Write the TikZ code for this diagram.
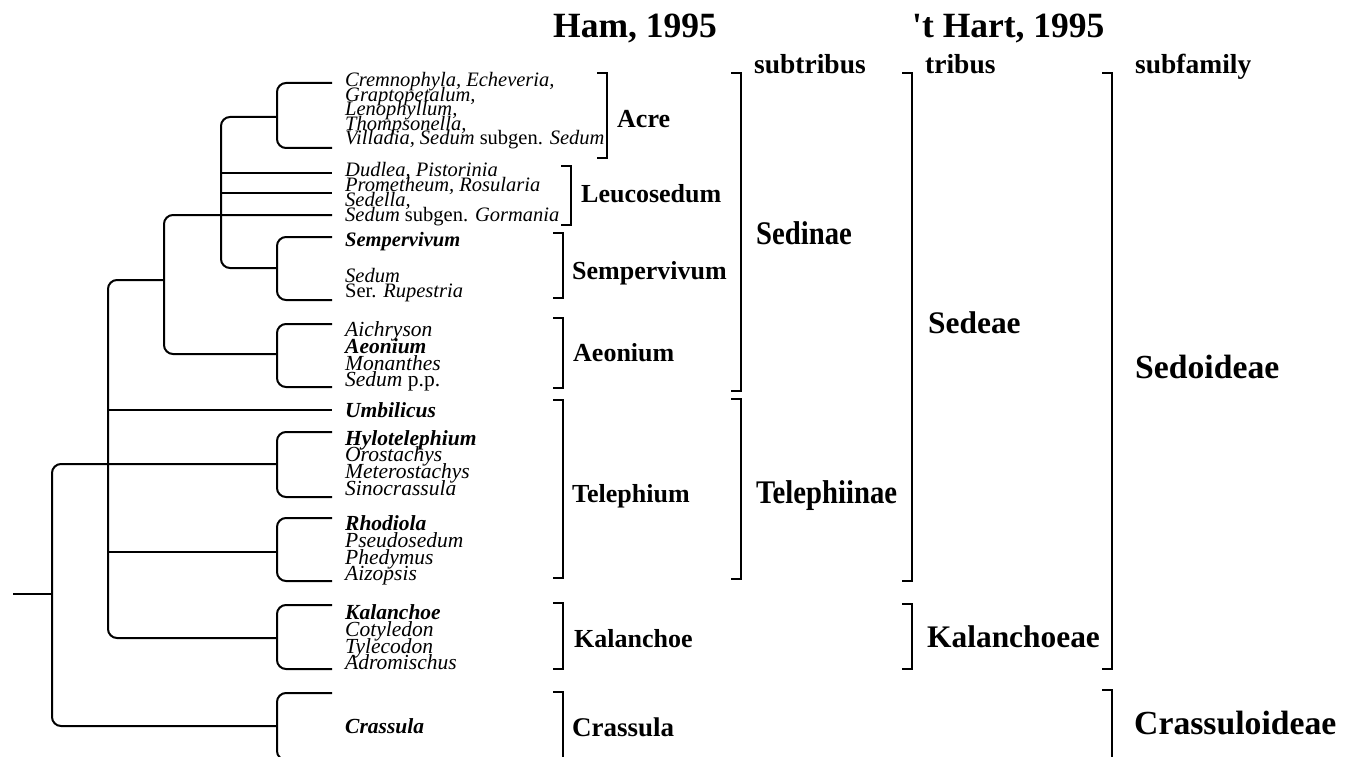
\documentclass[tikz,border=0pt]{standalone}
\usepackage{fontspec}
\setmainfont{Liberation Serif}
\begin{document}
\begin{tikzpicture}[x=1pt,y=-1pt,
  br/.style={line width=2pt,rounded corners=9pt},
  brk/.style={line width=2pt},
  tx/.style={anchor=base west,inner sep=0pt,font=\fontsize{20.5}{20}\selectfont},
  txl/.style={anchor=base west,inner sep=0pt,font=\fontsize{21.5}{20}\selectfont},
  lab/.style={anchor=base west,inner sep=0pt,font=\fontsize{26}{26}\selectfont\bfseries},
  big/.style={anchor=base west,inner sep=0pt,font=\fontsize{33}{33}\selectfont\bfseries},
  mid/.style={anchor=base west,inner sep=0pt,font=\fontsize{31.4}{31}\selectfont\bfseries},
  huge/.style={anchor=base west,inner sep=0pt,font=\fontsize{33.7}{34}\selectfont\bfseries},
  hdr/.style={anchor=base west,inner sep=0pt,font=\fontsize{27.5}{27}\selectfont\bfseries},
  ttl/.style={anchor=base west,inner sep=0pt,font=\fontsize{35.5}{35}\selectfont\bfseries}]
\useasboundingbox (0,0) rectangle (1350,757);
\clip (0,0) rectangle (1350,757);
% ---- leaf and junction coordinates
\coordinate (a1) at (332,83);  \coordinate (a2) at (332,148); \coordinate (aj) at (277,117);
\coordinate (l1) at (332,173); \coordinate (l2) at (332,193); \coordinate (l3) at (332,215);
\coordinate (s1) at (332,237); \coordinate (s2) at (332,300); \coordinate (sj) at (277,268);
\coordinate (e1) at (332,324); \coordinate (e2) at (332,387); \coordinate (ej) at (277,354);
\coordinate (u)  at (332,410);
\coordinate (h1) at (332,432); \coordinate (h2) at (332,497); \coordinate (hj) at (277,464);
\coordinate (r1) at (332,518); \coordinate (r2) at (332,581); \coordinate (rj) at (277,552);
\coordinate (k1) at (332,605); \coordinate (k2) at (332,669); \coordinate (kj) at (277,638);
\coordinate (c1) at (332,693); \coordinate (c2) at (332,760); \coordinate (cj) at (277,726);
\coordinate (n221) at (221,173);
\coordinate (n164) at (164,280);
\coordinate (n108) at (108,410);
\coordinate (n52)  at (52,594);
\coordinate (root) at (13,594);
% ---- clades
\draw[br] (a1) -| (aj) |- (a2);
\draw[br] (s1) -| (sj) |- (s2);
\draw[br] (e1) -| (ej) |- (e2);
\draw[br] (h1) -| (hj) |- (h2);
\draw[br] (r1) -| (rj) |- (r2);
\draw[br] (k1) -| (kj) |- (k2);
\draw[br] (c1) -| (cj) |- (c2);
% ---- inner branches
\draw[br] (aj) -| (n221) |- (sj);
\draw[br] (n221) -- (l1);
\draw[br] (n221 |- l2) -- (l2);
\draw[br] (l3) -| (n164) |- (ej);
\draw[br] (n164) -| (n108) |- (kj);
\draw[br] (n108) -- (u);
\draw[br] (n108 |- rj) -- (rj);
\draw[br] (hj) -| (n52) |- (cj);
\draw[br] (root) -- (n52);
% ---- taxa
\node[tx] (t1) at (345,87) {\textit{Cremnophyla, Echeveria,}};
\node[tx] (t2) at (345,101.5) {\textit{Graptopetalum,}};
\node[tx] (t3) at (345,116) {\textit{Lenophyllum,}};
\node[tx] (t4) at (345,130.5) {\textit{Thompsonella,}};
\node[tx] (t5) at (345,145) {\textit{Villadia, Sedum} subgen. \textit{Sedum}};
\node[tx] (t6) at (345,176) {\textit{Dudlea, Pistorinia}};
\node[tx] (t7) at (345,191.5) {\textit{Prometheum, Rosularia}};
\node[tx] (t8) at (345,206) {\textit{Sedella,}};
\node[tx] (t9) at (345,221) {\textit{Sedum} subgen. \textit{Gormania}};
\node[tx] (t10) at (345,246) {\textbf{\textit{Sempervivum}}};
\node[tx] (t11) at (345,282) {\textit{Sedum}};
\node[tx] (t12) at (345,297) {Ser. \textit{Rupestria}};
\node[txl] (t13) at (345,336) {\textit{Aichryson}};
\node[txl] (t14) at (345,353) {\textbf{\textit{Aeonium}}};
\node[txl] (t15) at (345,370) {\textit{Monanthes}};
\node[txl] (t16) at (345,386) {\textit{Sedum} p.p.};
\node[txl] (t17) at (345,417) {\textbf{\textit{Umbilicus}}};
\node[txl] (t18) at (345,445) {\textbf{\textit{Hylotelephium}}};
\node[txl] (t19) at (345,461) {\textit{Orostachys}};
\node[txl] (t20) at (345,478) {\textit{Meterostachys}};
\node[txl] (t21) at (345,495) {\textit{Sinocrassula}};
\node[txl] (t22) at (345,530) {\textbf{\textit{Rhodiola}}};
\node[txl] (t23) at (345,547) {\textit{Pseudosedum}};
\node[txl] (t24) at (345,564) {\textit{Phedymus}};
\node[txl] (t25) at (345,580) {\textit{Aizopsis}};
\node[txl] (t26) at (345,619) {\textbf{\textit{Kalanchoe}}};
\node[txl] (t27) at (345,636) {\textit{Cotyledon}};
\node[txl] (t28) at (345,653) {\textit{Tylecodon}};
\node[txl] (t29) at (345,669) {\textit{Adromischus}};
\node[txl] (t30) at (345,733) {\textbf{\textit{Crassula}}};
% ---- bracket coordinates
\coordinate (bA1) at (607,73);  \coordinate (bA2) at (607,158);
\coordinate (bL1) at (571,166); \coordinate (bL2) at (571,225);
\coordinate (bS1) at (563,233); \coordinate (bS2) at (563,298);
\coordinate (bE1) at (563,318); \coordinate (bE2) at (563,388);
\coordinate (bT1) at (563,400); \coordinate (bT2) at (563,578);
\coordinate (bK1) at (563,603); \coordinate (bK2) at (563,669);
\coordinate (bC1) at (563,692); \coordinate (bC2) at (563,770);
\coordinate (bSi1) at (741,73); \coordinate (bSi2) at (741,391);
\coordinate (bTe1) at (741,399); \coordinate (bTe2) at (741,579);
\coordinate (bSe1) at (912,73); \coordinate (bSe2) at (912,581);
\coordinate (bKa1) at (912,604); \coordinate (bKa2) at (912,669);
\coordinate (bSo1) at (1112,73); \coordinate (bSo2) at (1112,669);
\coordinate (bCr1) at (1112,690); \coordinate (bCr2) at (1112,770);
\foreach \b in {A,L,S,E,T,K,Si,Te,Se,Ka,So}{
  \draw[brk] ([xshift=-10pt]b\b1) -- (b\b1) -- (b\b2) -- ([xshift=-10pt]b\b2);
}
\draw[brk] ([xshift=-10pt]bC1) -- (bC1) -- (bC2);
\draw[brk] ([xshift=-10pt]bCr1) -- (bCr1) -- (bCr2);
% ---- group labels
\node[lab] (gA) at (617,128) {Acre};
\node[lab] (gL) at (581,202) {Leucosedum};
\node[lab] (gS) at (572,279) {Sempervivum};
\node[lab] (gE) at (573,361) {Aeonium};
\node[lab] (gT) at (572,502) {Telephium};
\node[lab] (gK) at (574,647) {Kalanchoe};
\node[lab,font=\fontsize{27}{27}\selectfont\bfseries] (gC) at (572,736) {Crassula};
\node[big] (sSi) at (756,244) {\scalebox{0.87}[1]{Sedinae}};
\node[big] (sTe) at (756,503) {\scalebox{0.87}[1]{Telephiinae}};
\node[mid] (sSe) at (928,333) {Sedeae};
\node[mid] (sKa) at (927,647) {Kalanchoeae};
\node[huge] (sSo) at (1135,378) {Sedoideae};
\node[huge] (sCr) at (1134,734) {Crassuloideae};
% ---- headers
\node[hdr] (h1t) at (754,74) {subtribus};
\node[hdr] (h2t) at (925,74) {tribus};
\node[hdr] (h3t) at (1135,74) {subfamily};
\node[ttl] (ham) at (553,38) {Ham, 1995};
\node[ttl] (hart) at (912,38) {\textquotesingle t Hart, 1995};
\end{tikzpicture}
\end{document}
